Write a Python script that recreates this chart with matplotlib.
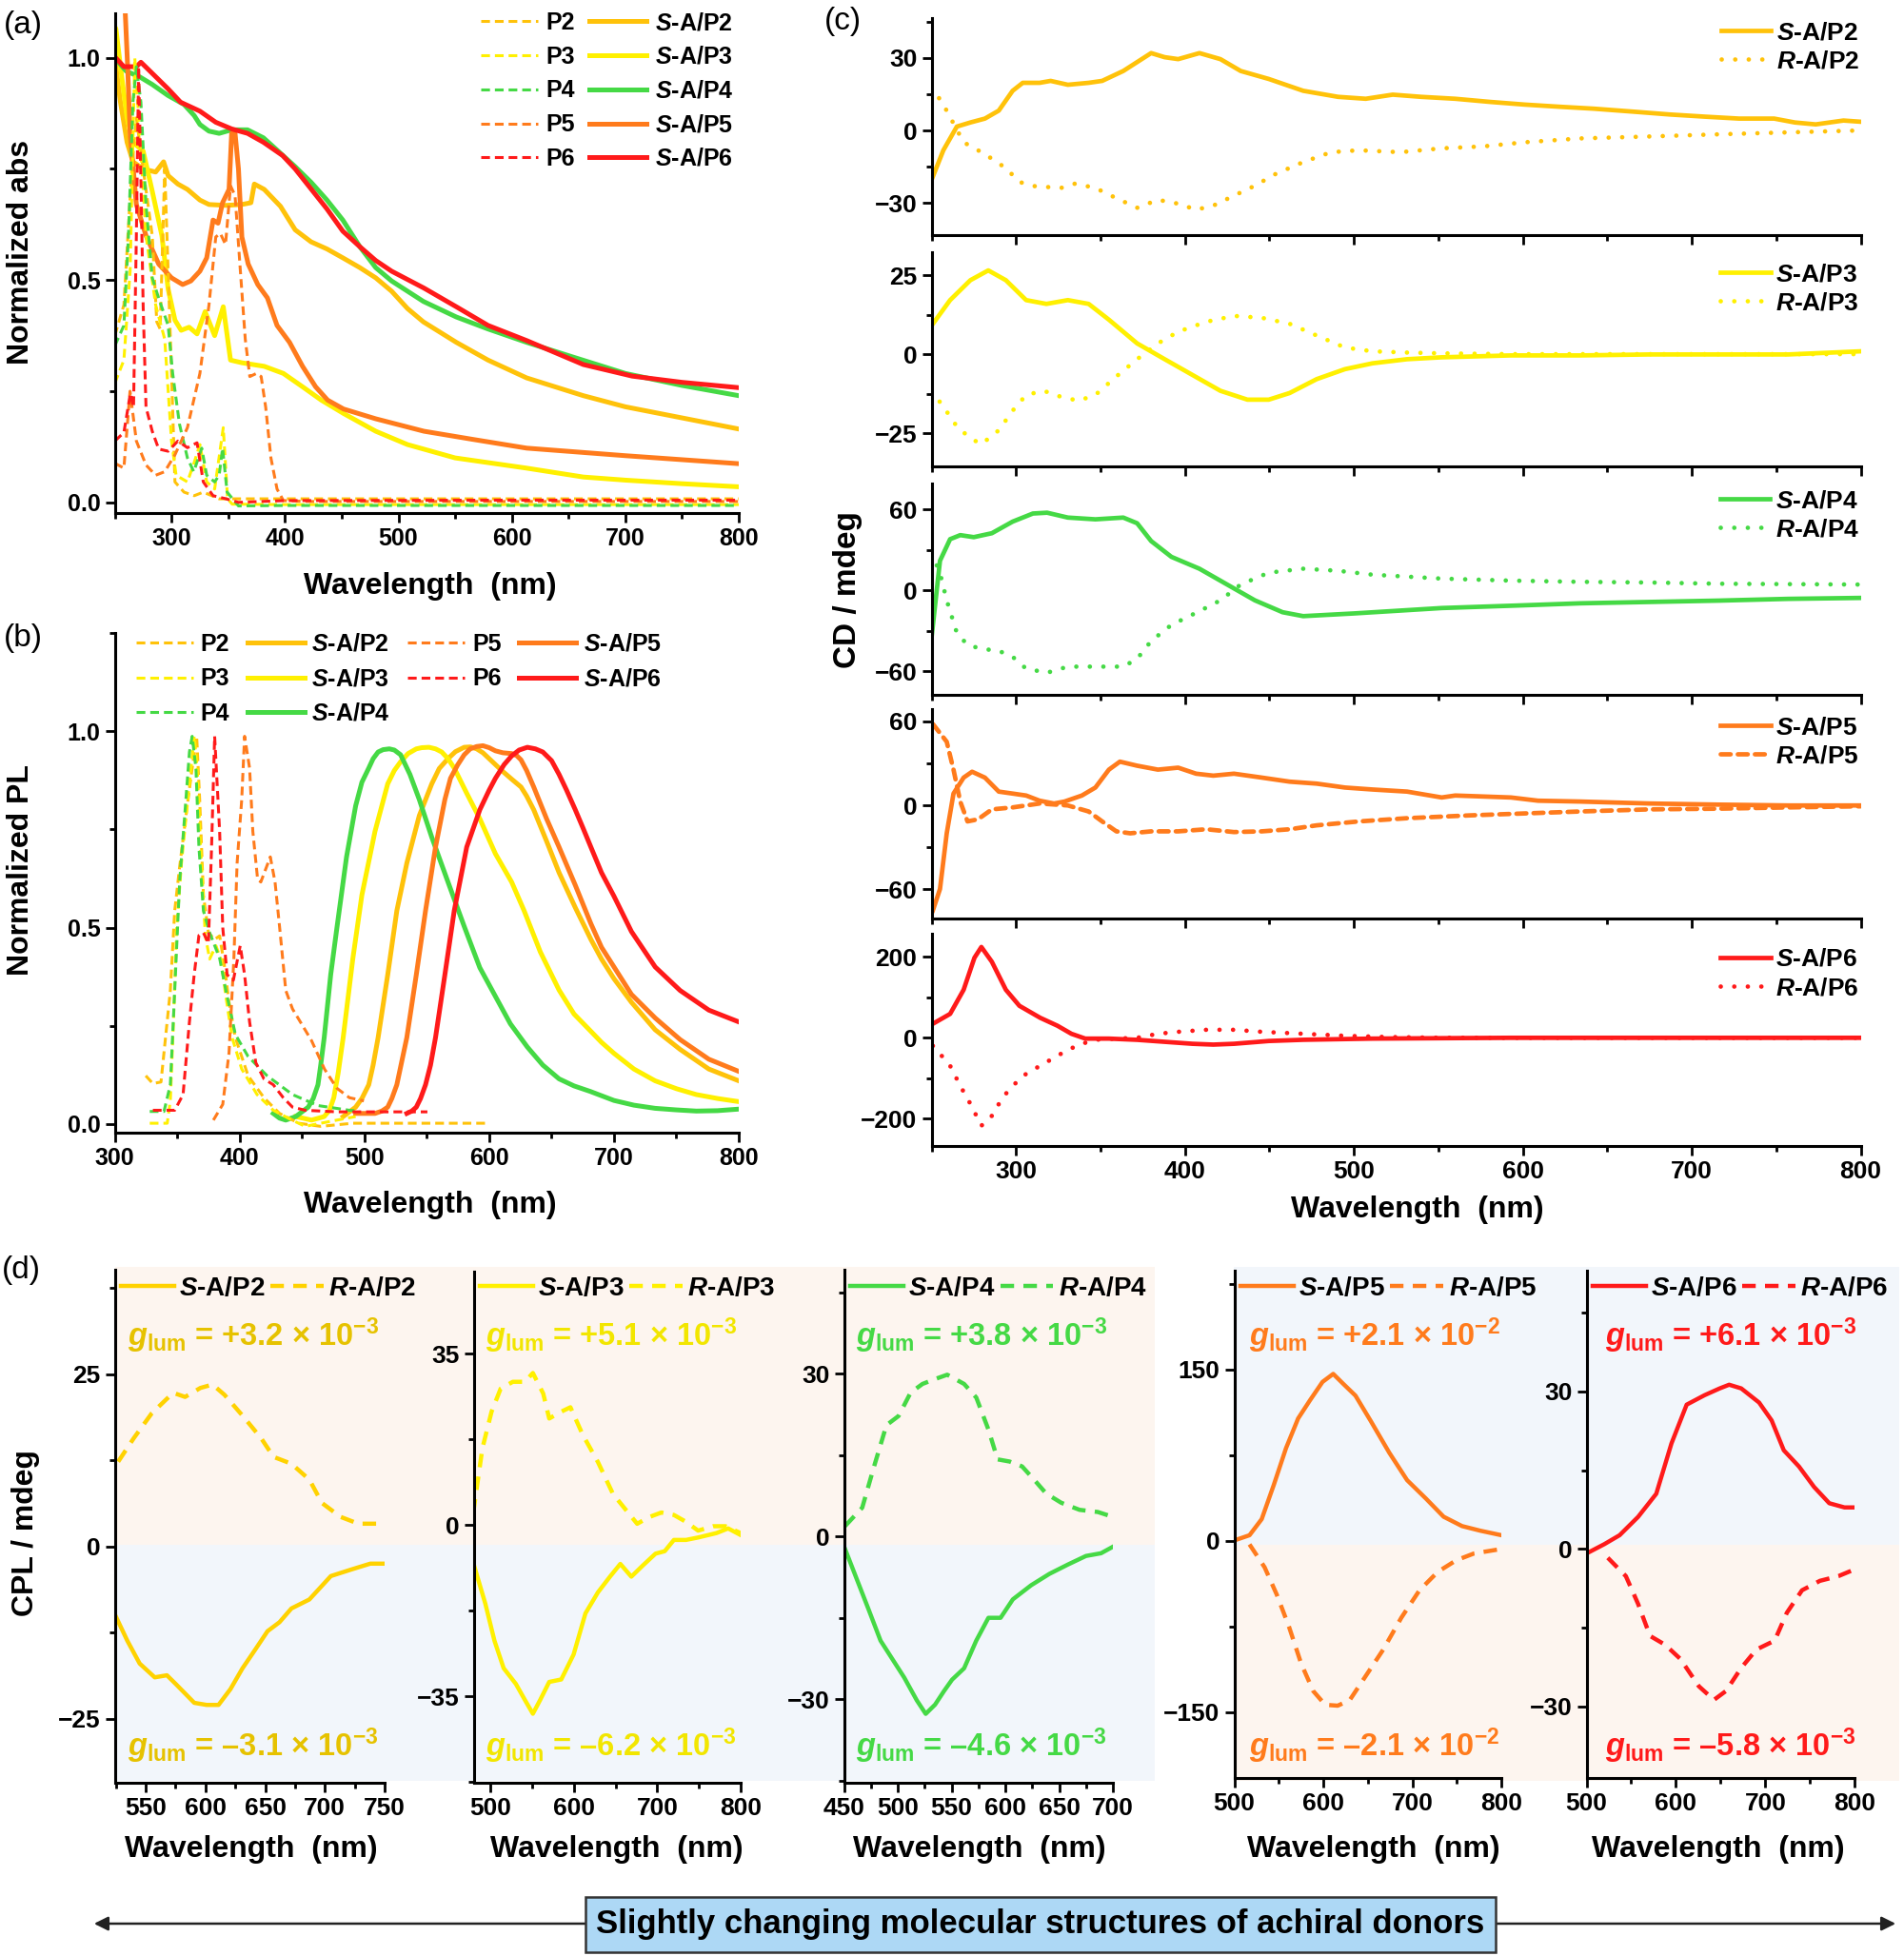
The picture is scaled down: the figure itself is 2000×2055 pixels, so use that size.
import matplotlib
matplotlib.use('Agg')
import matplotlib.pyplot as plt
from matplotlib.patches import Rectangle, FancyArrowPatch
from matplotlib.ticker import MultipleLocator, FormatStrFormatter

plt.rcParams['font.family'] = ['Liberation Sans', 'DejaVu Sans']
plt.rcParams['font.weight'] = 'bold'
plt.rcParams['axes.labelweight'] = 'bold'
plt.rcParams['mathtext.fontset'] = 'custom'
plt.rcParams['mathtext.rm'] = 'Liberation Sans:bold'
plt.rcParams['mathtext.it'] = 'Liberation Sans:bold:italic'
plt.rcParams['mathtext.bf'] = 'Liberation Sans:bold'
plt.rcParams['mathtext.sf'] = 'Liberation Sans'

# ---------------- colours ----------------
C2, C3, C4, C5, C6 = '#FFC20A', '#FFF000', '#45D945', '#FF7B1C', '#FF1A1A'
C2d = '#FFD200'
T2, T3 = '#E6C200', '#F2E600'

# ---------------- (a) absorption ----------------
abs_P2_wl = [250,258,265,269,275,283,287,290,294,297,300,303,311,320,328,342,360,400,500,600,700,800]
abs_P2 = [0.375,0.444,0.75,0.865,0.75,0.6,0.406,0.39,0.75,0.52,0.29,0.046,0.023,0.015,0.023,0.008,0.008,0.008,0.008,0.008,0.008,0.008]
abs_P3_wl = [250,258,263.5,267.6,272,277.5,286,294,300,304,314,320,325,331,338,345.6,349.4,353.5,400,500,600,800]
abs_P3 = [0.268,0.32,0.52,1.0,0.83,0.6,0.444,0.367,0.138,0.061,0.046,0.09,0.13,0.046,0.03,0.168,0.008,-0.004,-0.005,-0.005,-0.005,-0.005]
abs_P4_wl = [250,258,262,266,269,273,277.5,283,288.7,297,301,307,314,319.6,326.6,331,338,342,345,349,359,400,600,800]
abs_P4 = [0.352,0.398,0.597,0.9,0.98,0.9,0.67,0.505,0.459,0.398,0.29,0.176,0.1,0.069,0.122,0.061,0.046,0.061,0.122,0.023,-0.008,-0.007,-0.007,-0.007]
abs_P5_wl = [250,258,263.4,269,277.5,286,294,303,314,325,333,339,343,347.6,352,356,360.7,365,369,374.8,379,383,387.6,393,398.6,420,600,800]
abs_P5 = [0.088,0.077,0.25,0.138,0.084,0.061,0.069,0.107,0.168,0.29,0.444,0.597,0.605,0.58,0.712,0.69,0.52,0.367,0.283,0.29,0.283,0.214,0.1,0.03,0.004,0.002,0.002,0.002]
abs_P6_wl = [250,258,263.7,266.5,269,271,273.4,275,277.5,283,288.7,297,305.6,314,322.5,328,336.6,348,359,400,600,800]
abs_P6 = [0.138,0.157,0.245,0.214,0.6,0.98,0.67,0.44,0.214,0.16,0.12,0.115,0.138,0.123,0.134,0.046,0.015,0.008,0.0,0.004,0.005,0.005]

abs_SP2_wl = [250,255,260.8,266,275,286,293,297,305.6,314,325,333,348,362,370,373,381.7,396,409,423,437,451,466,480,494,508,522,551,579,613,663,700,750,800]
abs_SP2 = [1.0,0.9,0.81,0.766,0.75,0.743,0.766,0.735,0.716,0.704,0.68,0.67,0.668,0.67,0.674,0.716,0.704,0.666,0.613,0.586,0.57,0.55,0.528,0.505,0.475,0.436,0.406,0.36,0.32,0.28,0.24,0.215,0.19,0.165]
abs_SP3_wl = [250,251,255,260.8,266,275,283,291.5,297,303,308.5,315.5,322.5,329.6,338,345.6,352,362,381.7,398.6,415.5,432,451.6,480,508,550,613,663,700,750,800]
abs_SP3 = [1.07,1.065,0.98,0.865,0.81,0.79,0.70,0.6,0.48,0.41,0.387,0.394,0.379,0.429,0.375,0.44,0.32,0.314,0.306,0.29,0.26,0.23,0.2,0.16,0.13,0.1,0.077,0.057,0.05,0.042,0.035]
abs_SP4_wl = [250,260,272,283,297,311,320,325,333,342,353,367,381,394,409,423,437,451,466,480,494,522,551,579,613,650,700,750,800]
abs_SP4 = [1.0,0.97,0.957,0.94,0.915,0.895,0.87,0.85,0.835,0.83,0.838,0.838,0.82,0.79,0.755,0.72,0.68,0.635,0.575,0.528,0.498,0.452,0.417,0.39,0.36,0.33,0.29,0.263,0.24]
abs_SP5_wl = [257.5,261.3,263.5,269,277.5,288.7,300,309.8,317,325,331,336.6,341,345,350.7,353,356,359,362,367.6,376,384.5,393,404,415.5,427,437.6,451.6,480,522.5,564.8,613,700,800]
abs_SP5 = [1.2,0.98,0.83,0.67,0.6,0.536,0.505,0.49,0.498,0.52,0.55,0.635,0.628,0.674,0.704,0.83,0.83,0.75,0.597,0.536,0.49,0.46,0.398,0.36,0.306,0.26,0.23,0.21,0.188,0.16,0.142,0.122,0.105,0.087]
abs_SP6_wl = [250,250.7,258,269,273,283,297,308,325,339,353,367,381,398,409,423,437,451,466,480,494,522.5,551,579,613,663,706,750,800]
abs_SP6 = [0.99,1.0,0.98,0.98,0.99,0.965,0.93,0.90,0.88,0.855,0.84,0.83,0.81,0.78,0.75,0.705,0.66,0.61,0.575,0.544,0.52,0.482,0.44,0.398,0.364,0.31,0.284,0.27,0.258]

# ---------------- (b) PL ----------------
PL_P2_wl = [324.8,330.5,337,344.5,348,352,357,362,365.6,368,371,375,380,384,387.7,391.5,396.6,406.8,419.5,432,447.5,465,490.7,529,597.6]
PL_P2 = [0.123,0.103,0.107,0.34,0.543,0.656,0.785,0.906,0.987,0.826,0.583,0.487,0.47,0.479,0.406,0.31,0.22,0.123,0.067,0.027,0.002,-0.006,0.002,0.002,0.002]
PL_P3_wl = [328,342,344.5,347,349.6,353.4,358.5,363.6,366,368.7,372.5,376,381,385,389,394,401.7,414,427,442,452.6,465,478,493]
PL_P3 = [0.002,0.002,0.06,0.26,0.5,0.664,0.826,0.987,0.906,0.705,0.48,0.42,0.454,0.42,0.325,0.22,0.14,0.075,0.035,0.01,-0.006,0.002,0.01,0.019]
PL_P4_wl = [328,339.4,344.5,348,352,356,359.8,362,365,367.4,371,376,384,389,396.6,406.8,422,442.4,462.8,488,496]
PL_P4 = [0.032,0.032,0.1,0.34,0.62,0.785,0.947,0.987,0.906,0.705,0.543,0.487,0.422,0.34,0.228,0.172,0.123,0.075,0.047,0.035,0.033]
PL_P5_wl = [379,386.5,391.5,395.4,398,401.7,404,408,410.6,414.4,417,420.8,424.6,428.4,432,437,442.4,450,457.7,468,478,488,499.6]
PL_P5 = [0.01,0.05,0.18,0.42,0.664,0.826,0.987,0.906,0.745,0.624,0.616,0.648,0.68,0.616,0.503,0.34,0.293,0.253,0.212,0.14,0.091,0.067,0.059]
PL_P6_wl = [330.5,348,354.7,359.8,363.6,367.4,371,375,377.5,380,384,386.5,390,395,400.5,404,408,413,419.5,427,435,442.4,452.6,478,516,550.5]
PL_P6 = [0.035,0.035,0.075,0.26,0.38,0.48,0.487,0.46,0.7,0.987,0.745,0.5,0.38,0.366,0.454,0.38,0.26,0.156,0.115,0.1,0.067,0.043,0.035,0.031,0.031,0.031]

PL_SP2_wl = [483,493,498,503.5,507,511,518.7,526,534,544,554,560,567,573,580,585,590,595,600,605,610,618,625.5,630,635.7,646,656,669,681.5,690,700,714,733,753,776,800]
PL_SP2 = [0.019,0.043,0.065,0.1,0.15,0.22,0.38,0.543,0.664,0.785,0.866,0.905,0.93,0.948,0.959,0.96,0.955,0.945,0.93,0.915,0.9,0.878,0.858,0.835,0.8,0.72,0.64,0.551,0.47,0.42,0.37,0.31,0.24,0.19,0.14,0.11]
PL_SP3_wl = [445,457.7,467.8,472,475.5,479,483,490.7,498,508.5,518.7,524,529,535,541.6,546,551.8,557,562,567,572,582,592.5,605,618,628,641,656,668,681.5,690,700,716,733,750,766,783,800]
PL_SP3 = [0.019,0.01,0.019,0.035,0.067,0.13,0.22,0.42,0.583,0.745,0.866,0.9,0.922,0.943,0.955,0.958,0.959,0.955,0.947,0.93,0.906,0.842,0.777,0.688,0.616,0.543,0.438,0.341,0.28,0.236,0.208,0.18,0.14,0.11,0.09,0.075,0.065,0.057]
PL_SP4_wl = [427,432,437,445,455,459,462.8,465,467.8,473,478,485.7,493,498,503.5,507,511,515,520,524,529,536.5,544,554,567,580,592.5,605,617,630.6,643,656,668,681,700,716,733,750,766,783,800]
PL_SP4 = [0.027,0.015,0.01,0.019,0.043,0.065,0.1,0.15,0.22,0.38,0.5,0.68,0.81,0.87,0.906,0.93,0.947,0.953,0.955,0.952,0.94,0.89,0.826,0.73,0.616,0.503,0.398,0.325,0.255,0.196,0.15,0.115,0.097,0.083,0.06,0.048,0.04,0.036,0.033,0.034,0.038]
PL_SP5_wl = [493,508.5,514,518.7,522,526,534,541.6,549,557,564.5,569,574.7,580,584.8,590,595,600,605,611,618,622,625.5,630,635.7,646,656,669,681.5,690,700,714,733,753,776,800]
PL_SP5 = [0.027,0.027,0.033,0.043,0.065,0.1,0.22,0.38,0.543,0.705,0.826,0.88,0.914,0.94,0.955,0.961,0.963,0.958,0.95,0.945,0.943,0.938,0.927,0.9,0.858,0.777,0.705,0.608,0.51,0.45,0.4,0.33,0.27,0.215,0.165,0.134]
PL_SP6_wl = [534,538,541.6,545,549,553,557,564.5,572,582,592.5,600,605,612,618,624,630.6,637,643,650,656,662,669,675,681.5,690,700,714,733,753,776,800]
PL_SP6 = [0.027,0.033,0.043,0.065,0.1,0.15,0.22,0.38,0.543,0.705,0.8,0.85,0.88,0.915,0.937,0.952,0.959,0.955,0.947,0.925,0.89,0.85,0.8,0.755,0.705,0.64,0.58,0.49,0.4,0.34,0.29,0.26]

# ---------------- (c) CD ----------------
CD_S2_wl = [250,257,265,273,281.6,289.8,298,304,314,320.5,330.7,343,351,363.5,380,388,396,408.6,421,433,449.6,470,490.6,507,523,539.8,560,580.7,601,621.7,642,666.8,687,707.8,728,748.8,761,773.4,789.8,800]
CD_S2 = [-20.5,-8.2,1.6,3.3,4.9,8.2,16.4,19.7,19.7,20.5,18.9,19.7,20.5,24.6,32,30.3,29.5,32,29.5,24.6,21.3,16.4,13.9,13.1,14.8,13.9,13.1,11.8,10.7,9.8,9.0,7.7,6.6,5.7,4.9,4.9,3.3,2.5,4.1,3.6]
CD_R2_wl = [250,257,269,281.6,294,302,310,326.6,335,347,359,371.7,384,396,406.6,416.8,429,441,453.7,470,486.5,502.9,527.5,552,576.6,601,634,675,716,757,800]
CD_R2 = [18,10.7,-4.9,-9.8,-15.6,-21.3,-23,-23.8,-22,-23.8,-27.9,-32,-28.7,-30.3,-32.8,-31.1,-27,-23,-18,-13.1,-9.0,-8.2,-9.0,-7.4,-6.6,-4.9,-3.3,-2.5,-1.6,-0.8,0]
CD_S3_wl = [250,261,273,283.6,294,306,318,330.7,343,355,371.7,388,404.5,421,437,449.6,462,478,494.7,511,531.5,552,593,634,675,716,757,800]
CD_S3 = [9,17.1,23.4,26.5,23.4,17.1,15.9,17.1,15.9,10.9,3.4,-1.6,-6.6,-11.6,-14.4,-14.4,-12.3,-7.9,-4.75,-2.9,-1.6,-1.0,-0.4,-0.4,-0.1,-0.1,-0.1,0.9]
CD_R3_wl = [250,257,265,273,279.5,289.8,298,306,316.4,326.6,337,347,359,371.7,384,396,412.7,429,445.5,462,478,494.7,511,531.5,552,593,700,800]
CD_R3 = [-11.6,-16.6,-22.9,-26.6,-28.5,-24.1,-17.9,-12.9,-11.6,-13.5,-14.75,-12.9,-7.25,-1.6,3.4,7.1,10.25,12.1,11.5,9.6,5.9,2.1,0.9,0.5,0.25,0,0,0]
CD_S4_wl = [250,255,261,267,275,285.7,298,310,318.4,330.7,347,363.5,371.7,380,392,408.6,425,441.4,457.8,470,500,552,600,634,716,757,800]
CD_S4 = [-35,22,38,41,39.5,42.4,51,57,57.6,54,52.7,54,49.8,36.6,24.9,16.1,4.4,-7.3,-16.1,-19,-17,-13,-11,-9.5,-7.5,-6.2,-5.5]
CD_R4_wl = [250,255,259,265,271.3,279.5,289.8,298,306,318.4,330.7,347,363.5,371.7,380,392,408.6,421,433,449.6,470,490.6,511,552,593,634,675,716,800]
CD_R4 = [27.8,13,-7.3,-31.5,-40.3,-43.2,-44.7,-49.1,-57.9,-60.9,-56.4,-56.4,-56.4,-50.6,-37.4,-25.5,-15.3,-7.3,4.4,13.2,16.1,14.6,11.7,8.8,7.3,6.4,5.9,5.0,4.4]
CD_S5_wl = [250.8,255,259,263,269,274,281.6,289.8,298,306,314,322.5,328.7,339,347,355,361.5,371.7,384,396,406.6,416.8,429,445.5,462,478,494.7,511,531.5,552,560,593,609,634,675,716,757,800]
CD_S5 = [-75,-59.7,-19.9,8.5,19.9,24.1,19.9,9.9,8.5,7.1,3.4,1.4,2.8,7.1,12.8,25.6,31.3,28.4,25.6,27,22.7,21.3,22.7,19.9,17,15.6,12.8,11.4,9.9,5.7,7.1,5.7,3.4,2.8,1.4,0.6,0,0]
CD_R5_wl = [250.8,259,263,267,271.3,277.5,285.7,298,314,330.7,343,351,359.4,367.6,380,396,412.7,429,445.5,462,478,503,531.5,568.4,601,634,675,716,757,800]
CD_R5 = [58.2,45.5,25.6,2.8,-11.4,-9.9,-2.8,-1.4,1.4,0,-4.3,-11.4,-18.5,-19.9,-18.5,-18.5,-17,-19,-18.5,-17,-14.2,-11.4,-9.1,-7.1,-5.7,-4.3,-2.8,-2.3,-1.4,-0.6]
CD_S6_wl = [250.8,261,269,275.4,279.5,285.7,294,302,314.3,324.6,332.8,341,355,371.7,388,404.5,416.8,429,449.6,470,511,593,800]
CD_S6 = [34.6,59,118.5,197.5,224,187.7,118.5,79,49.4,29.6,9.9,-2,-2,-5,-9.9,-14.8,-16.8,-14.8,-7.9,-4.9,-2,0,0]
CD_R6_wl = [250.8,255,261,267,273,279.5,285.7,292,298,306,314.3,322.5,330.7,339,347,359.4,371.7,384,396,412.7,429,445.5,470,494.7,519,552,800]
CD_R6 = [-19.8,-39.5,-69,-118.5,-163,-217,-192.6,-148,-118.5,-88.9,-69,-49.4,-29.6,-14.8,-4.9,-2,0,9.9,14.8,19.8,19.8,14.8,9.9,4.9,2,0,0]

# ---------------- (d) CPL ----------------
CPL_S2_wl = [524.6,534.7,545,557.6,567.8,575.4,590.7,601,611,621,631,641.6,652,662,672,687,697.6,705,723,738,750]
CPL_S2 = [-10,-13.7,-17,-19,-18.7,-20,-22.7,-23,-23,-20.7,-17.7,-15,-12.3,-11,-9,-7.7,-5.7,-4.3,-3.3,-2.5,-2.5]
CPL_R2_wl = [527,540,555,573,583,595.8,606,616,631,646.7,657,672,687,697.6,713,728,750]
CPL_R2 = [12.3,15.7,19.3,22.3,21.7,23,23.5,22,19,15.7,13,12,9.7,6.3,4.3,3.3,3.3]
CPL_S3_wl = [479.6,494,505,516,530.6,541.5,551,559.7,570.6,585,599.8,614,629,643.4,655.8,669,683.5,698,709,720,734.5,749,771,785,800]
CPL_S3 = [-7.7,-16,-23.6,-29.2,-32.4,-35.7,-38.5,-35.7,-32,-31.5,-26.4,-18,-13.7,-10.5,-7.9,-10.5,-8.1,-5.8,-5.3,-3,-3,-2.5,-1.6,-0.65,-2]
CPL_R3_wl = [479.6,490.5,501.5,512.4,527,541.5,551,563.4,570.6,585,596,610.7,629,647,665,676,690.8,705,720,734.5,749,767,781.8,800]
CPL_R3 = [2.6,15.7,23.2,27.9,29.3,29.3,31.1,26.9,21.8,23.2,24.1,18.5,12.9,6.4,2.6,0.3,1.7,2.6,2.1,0.7,-1.1,-0.2,-0.2,-1.6]
CPL_S4_wl = [451,461,472.6,484,495,506,517.7,526,534.7,543,550.5,561.7,573,584.3,595.6,607,624,641,658,675,689,700]
CPL_S4 = [-2.3,-7.4,-13.3,-19.2,-22.6,-26,-30.2,-32.7,-31,-28.5,-26.4,-24.3,-19.2,-15,-15,-11.6,-9,-6.9,-5.2,-3.6,-3.1,-1.9]
CPL_R4_wl = [451,467,478,489.5,500.8,512,523,534.7,546,561.7,573,584.3,592.8,604,615.6,627,638,652,669,686,700]
CPL_R4 = [1.9,5.3,12.9,20.5,22.2,26.5,28.1,29,29.8,28.1,25.6,19.7,14.2,13.8,12.9,10.4,7.9,6.2,4.9,4.5,3.6]
CPL_S5_wl = [502,517,530.7,544.3,558,571.6,585,599,611,622.7,636,653,674,694,715,735,755.7,776,800]
CPL_S5 = [0.8,4.8,18.9,48.9,81,107,123,139,146,137,127,105,77,53,37,21,12.8,8.8,4.8]
CPL_R5_wl = [517,534,547.7,561.4,575,588.6,602,616,629.5,646.6,667,687.5,708,728.4,749,769,800]
CPL_R5 = [-3.2,-23.3,-47.3,-75.4,-107.5,-131.6,-143.6,-144.4,-139.6,-119.5,-95.5,-67.4,-43.3,-27.3,-17.2,-11.2,-7.2]
CPL_S6_wl = [502,520,537,557.7,578,595,612,632,649,659.5,673,693,707,720.6,737.6,754.5,771.5,788.5,800]
CPL_S6 = [-0.7,0.9,2.6,6.1,10.5,20.1,27.5,29.3,30.6,31.3,30.6,27.9,24.5,18.8,15.7,11.8,8.7,7.9,7.9]
CPL_R6_wl = [523.8,544,557.7,571,588,605,625.6,642.5,656,673,690,710.4,724,741,761,781.7,800]
CPL_R6 = [-1.7,-5.2,-10.5,-16.6,-18.3,-21,-26.2,-28.8,-27.1,-22.7,-19.2,-17.5,-12.2,-7.9,-6.1,-5.2,-3.9]

glum_pos = ['+3.2', '+5.1', '+3.8', '+2.1', '+6.1']
glum_neg = ['\u20133.1', '\u20136.2', '\u20134.6', '\u20132.1', '\u20135.8']
glum_exp = ['-3', '-3', '-3', '-2', '-3']

# ---------------- figure ----------------
W, H = 2000, 2055
fig = plt.figure(figsize=(W/100, H/100), dpi=100)

def add_ax(x0, x1, yt, yb):
    ax = fig.add_axes([x0/W, 1-yb/H, (x1-x0)/W, (yb-yt)/H])
    ax.set_facecolor('none')
    return ax

def style(ax, xmaj, xmin, ymaj, ymin, fs=19):
    for s in ['top', 'right']:
        ax.spines[s].set_visible(False)
    for s in ['left', 'bottom']:
        ax.spines[s].set_linewidth(2.2)
    ax.xaxis.set_major_locator(MultipleLocator(xmaj))
    ax.xaxis.set_minor_locator(MultipleLocator(xmin))
    ax.yaxis.set_major_locator(MultipleLocator(ymaj))
    ax.yaxis.set_minor_locator(MultipleLocator(ymin))
    ax.tick_params(which='major', direction='out', length=7, width=2, labelsize=fs, pad=4)
    ax.tick_params(which='minor', direction='out', length=4, width=2)
    ax.tick_params(top=False, right=False)

def ftext(x, y, s, **kw):
    return fig.text(x/W, 1-y/H, s, **kw)

def Slab(p):
    return r'$\mathit{S}$-A/' + p

def Rlab(p):
    return r'$\mathit{R}$-A/' + p

DASH_A = (0, (3, 1.7))
DOT = (0, (0.01, 3.0))
XLFS = 23

# ---- (a) ----
axa = add_ax(120.6, 776, 14, 539)
sa = []
for wl, v, c in [(abs_SP2_wl, abs_SP2, C2), (abs_SP3_wl, abs_SP3, C3), (abs_SP4_wl, abs_SP4, C4),
                 (abs_SP5_wl, abs_SP5, C5), (abs_SP6_wl, abs_SP6, C6)]:
    sa.append(axa.plot(wl, v, color=c, lw=3.6, solid_joinstyle='round')[0])
da = []
for wl, v, c in [(abs_P2_wl, abs_P2, C2), (abs_P3_wl, abs_P3, C3), (abs_P4_wl, abs_P4, C4),
                 (abs_P5_wl, abs_P5, C5), (abs_P6_wl, abs_P6, C6)]:
    da.append(axa.plot(wl, v, color=c, lw=2.2, linestyle=DASH_A)[0])
axa.set_xlim(250, 800)
axa.set_ylim(-0.024, 1.10)
style(axa, 100, 50, 0.5, 0.25, fs=18)
axa.yaxis.set_major_formatter(FormatStrFormatter('%.1f'))
ftext(22, 265, 'Normalized abs', fontsize=XLFS, rotation=90, ha='center', va='center')
labs_a = ['P2', 'P3', 'P4', 'P5', 'P6'] + [Slab(p) for p in ['P2', 'P3', 'P4', 'P5', 'P6']]
axa.legend(da + sa, labs_a, ncol=2, loc='upper left', bbox_to_anchor=(505/W, 1-12/H),
           bbox_transform=fig.transFigure, frameon=False, fontsize=18, handlelength=2.4,
           handletextpad=0.35, columnspacing=0.6, labelspacing=0.47, borderpad=0, borderaxespad=0)
ftext(452, 616, 'Wavelength  (nm)', fontsize=XLFS, ha='center', va='center')

# ---- (b) ----
axb = add_ax(120.6, 776, 665, 1190)
sb = []
for wl, v, c in [(PL_SP2_wl, PL_SP2, C2), (PL_SP3_wl, PL_SP3, C3), (PL_SP4_wl, PL_SP4, C4),
                 (PL_SP5_wl, PL_SP5, C5), (PL_SP6_wl, PL_SP6, C6)]:
    sb.append(axb.plot(wl, v, color=c, lw=3.6, solid_joinstyle='round')[0])
db = []
for wl, v, c in [(PL_P2_wl, PL_P2, C2), (PL_P3_wl, PL_P3, C3), (PL_P4_wl, PL_P4, C4),
                 (PL_P5_wl, PL_P5, C5), (PL_P6_wl, PL_P6, C6)]:
    db.append(axb.plot(wl, v, color=c, lw=2.2, linestyle=DASH_A)[0])
axb.set_xlim(300, 800)
axb.set_ylim(-0.022, 1.25)
style(axb, 100, 50, 0.5, 0.25, fs=18)
axb.yaxis.set_major_formatter(FormatStrFormatter('%.1f'))
ftext(22, 914, 'Normalized PL', fontsize=XLFS, rotation=90, ha='center', va='center')
hb = [db[0], db[1], db[2], sb[0], sb[1], sb[2], db[3], db[4], sb[3], sb[4]]
lb = ['P2', 'P3', 'P4', Slab('P2'), Slab('P3'), Slab('P4'), 'P5', 'P6', Slab('P5'), Slab('P6')]
axb.legend(hb, lb, ncol=4, loc='upper left', bbox_to_anchor=(143/W, 1-665/H),
           bbox_transform=fig.transFigure, frameon=False, fontsize=18, handlelength=2.4,
           handletextpad=0.3, columnspacing=0.75, labelspacing=0.5, borderpad=0, borderaxespad=0)
ftext(452, 1266, 'Wavelength  (nm)', fontsize=XLFS, ha='center', va='center')

# ---- (c) ----
c_rows = [(18.7, 247, (-43.3, 46.6), 30, 15, CD_S2_wl, CD_S2, CD_R2_wl, CD_R2, C2, 'P2', DOT, 22),
          (265.5, 489.6, (-35.4, 32.1), 25, 12.5, CD_S3_wl, CD_S3, CD_R3_wl, CD_R3, C3, 'P3', DOT, 276),
          (508.3, 729.6, (-77, 79), 60, 30, CD_S4_wl, CD_S4, CD_R4_wl, CD_R4, C4, 'P4', DOT, 514),
          (745.2, 964.9, (-80.7, 68.7), 60, 30, CD_S5_wl, CD_S5, CD_R5_wl, CD_R5, C5, 'P5', (0, (2.2, 1.6)), 752),
          (980.9, 1204, (-267, 257), 200, 100, CD_S6_wl, CD_S6, CD_R6_wl, CD_R6, C6, 'P6', DOT, 996)]
for i, (yt, yb, yl, ymj, ymn, swl, sv, rwl, rv, c, p, ls, legy) in enumerate(c_rows):
    ax = add_ax(978.5, 1954.5, yt, yb)
    l1, = ax.plot(swl, sv, color=c, lw=3.4, solid_joinstyle='round')
    l2, = ax.plot(rwl, rv, color=c, lw=3.4, linestyle=ls, dash_capstyle='round')
    ax.set_xlim(250, 800)
    ax.set_ylim(*yl)
    style(ax, 100, 50, ymj, ymn, fs=19)
    if i < 4:
        ax.tick_params(axis='x', labelbottom=False)
    ax.legend([l1, l2], [Slab(p), Rlab(p)], loc='upper right', bbox_to_anchor=(1953/W, 1-legy/H),
              bbox_transform=fig.transFigure, frameon=False, fontsize=19, handlelength=2.0,
              handletextpad=0.2, labelspacing=0.25, borderpad=0, borderaxespad=0)
ftext(891, 620, 'CD / mdeg', fontsize=24, rotation=90, ha='center', va='center')
ftext(1489, 1271, 'Wavelength  (nm)', fontsize=XLFS, ha='center', va='center')

# ---- (d) ----
PEACH, BLUE = '#FDF5EF', '#F2F6FB'
fig.add_artist(Rectangle((121/W, 1-1623/H), (1213-121)/W, (1623-1331)/H, transform=fig.transFigure,
                         facecolor=PEACH, edgecolor='none', zorder=0))
fig.add_artist(Rectangle((121/W, 1-1871/H), (1213-121)/W, (1871-1623)/H, transform=fig.transFigure,
                         facecolor=BLUE, edgecolor='none', zorder=0))
fig.add_artist(Rectangle((1296/W, 1-1623/H), (1995-1296)/W, (1623-1331)/H, transform=fig.transFigure,
                         facecolor=BLUE, edgecolor='none', zorder=0))
fig.add_artist(Rectangle((1296/W, 1-1871/H), (1995-1296)/W, (1871-1623)/H, transform=fig.transFigure,
                         facecolor=PEACH, edgecolor='none', zorder=0))

d_rows = [((121, 404, 1333.7, 1873), (524.5, 750), (-34.3, 40.2), 50, 25, 25, 12.5,
           CPL_S2_wl, CPL_S2, CPL_R2_wl, CPL_R2, C2d, T2, 'P2', 127, 134, 264),
          ((497.5, 778, 1336, 1873), (480, 800), (-52.6, 51.8), 100, 50, 35, 17.5,
           CPL_S3_wl, CPL_S3, CPL_R3_wl, CPL_R3, C3, T3, 'P3', 504, 510, 648),
          ((886.5, 1169, 1333.7, 1873), (450, 700), (-45.4, 49.2), 50, 25, 30, 15,
           CPL_S4_wl, CPL_S4, CPL_R4_wl, CPL_R4, C4, C4, 'P4', 893, 899, 1029),
          ((1296.6, 1577.2, 1334.7, 1868), (500, 800), (-207.7, 236.6), 100, 50, 150, 75,
           CPL_S5_wl, CPL_S5, CPL_R5_wl, CPL_R5, C5, C5, 'P5', 1303, 1312, 1443),
          ((1666.5, 1948.3, 1334.7, 1868), (500, 800), (-43.7, 53.1), 100, 50, 30, 15,
           CPL_S6_wl, CPL_S6, CPL_R6_wl, CPL_R6, C6, C6, 'P6', 1673, 1686, 1805)]
for i, (box, xl, yl, xmj, xmn, ymj, ymn, swl, sv, rwl, rv, c, tc, p, legx, gx, labx) in enumerate(d_rows):
    ax = add_ax(*box)
    l1, = ax.plot(swl, sv, color=c, lw=3.2, solid_joinstyle='round')
    l2, = ax.plot(rwl, rv, color=c, lw=3.2, linestyle=(0, (3.2, 2.2)))
    ax.set_xlim(*xl)
    ax.set_ylim(*yl)
    style(ax, xmj, xmn, ymj, ymn, fs=19)
    ax.legend([l1, l2], [Slab(p), Rlab(p)], ncol=2, loc='upper left', bbox_to_anchor=(legx/W, 1-1341/H),
              bbox_transform=fig.transFigure, frameon=False, fontsize=20, handlelength=2.0,
              handletextpad=0.2, columnspacing=0.2, borderpad=0, borderaxespad=0)
    g = r'$\mathit{g}_{\mathsf{lum}}$'
    ex = r'$\mathbf{10}^{\mathbf{' + glum_exp[i] + '}}$'
    ftext(gx, 1403, g + ' = ' + glum_pos[i] + ' \u00d7 ' + ex, fontsize=23.5, color=tc, ha='left', va='center')
    ftext(gx, 1834, g + ' = ' + glum_neg[i] + ' \u00d7 ' + ex, fontsize=23.5, color=tc, ha='left', va='center')
    ftext(labx, 1943, 'Wavelength  (nm)', fontsize=XLFS, ha='center', va='center')
ftext(27, 1610, 'CPL / mdeg', fontsize=23, rotation=90, ha='center', va='center')

# bold tick labels everywhere
for ax in fig.axes:
    for t in ax.get_xticklabels() + ax.get_yticklabels():
        t.set_fontweight('bold')

# ---- bottom arrow and box ----
fig.add_artist(FancyArrowPatch((96/W, 1-2021/H), (1994/W, 1-2021/H), transform=fig.transFigure,
                               arrowstyle='<|-|>', mutation_scale=22, lw=1.8, color='#222222'))
fig.add_artist(Rectangle((615/W, 1-2051/H), (1571-615)/W, (2051-1993)/H, transform=fig.transFigure,
                         facecolor='#ADD8F5', edgecolor='#333333', lw=1.8, zorder=5))
ftext(1093, 2022, 'Slightly changing molecular structures of achiral donors', fontsize=25,
      ha='center', va='center', zorder=6)

# ---- panel labels ----
for lab, x, y in [('(a)', 4, 27), ('(b)', 4, 670), ('(c)', 866, 22), ('(d)', 2, 1335)]:
    ftext(x, y, lab, fontsize=24, fontweight='normal', ha='left', va='center')

fig.savefig('out.png', dpi=100)
